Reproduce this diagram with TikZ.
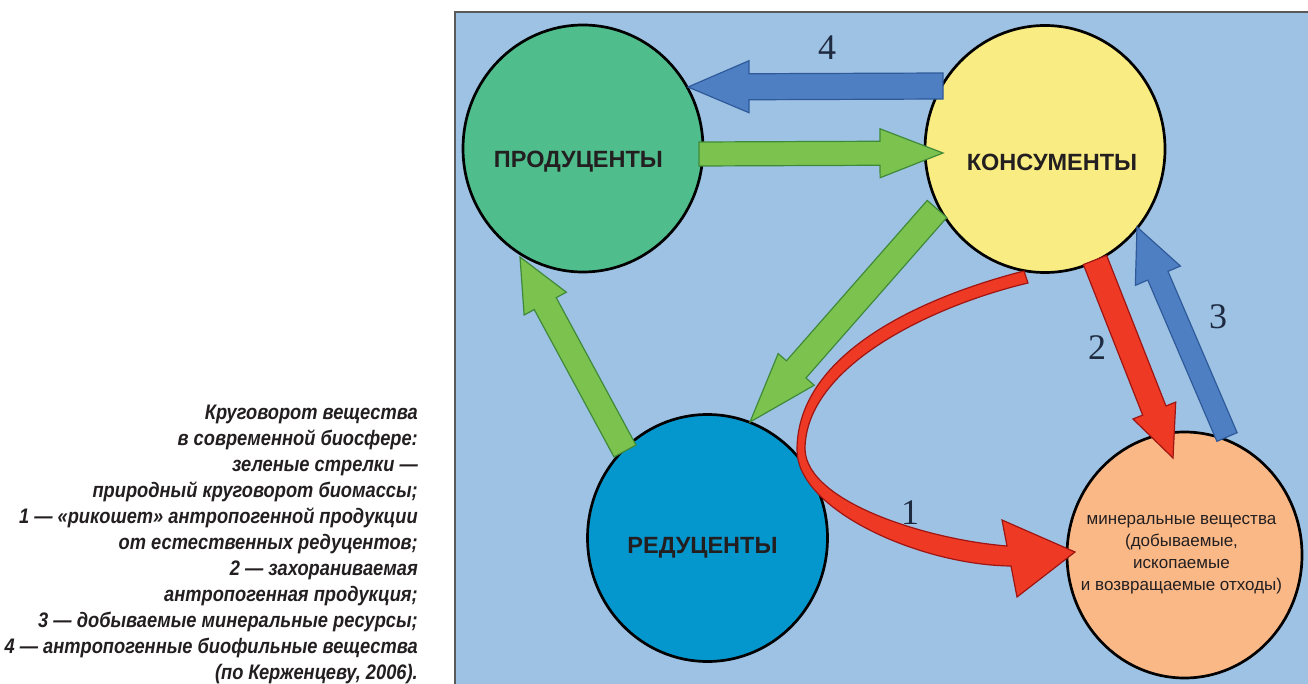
\documentclass[tikz,border=0pt]{standalone}
\usepackage{fontspec}
\usetikzlibrary{shapes.geometric,calc}
\newfontfamily\sansf{Liberation Sans}
\newfontfamily\seriff{Liberation Serif}
\newfontfamily\capf[FakeStretch=0.87]{Liberation Sans}
\definecolor{panel}{HTML}{9EC2E3}
\definecolor{panelborder}{HTML}{5A5A5A}
\definecolor{cprod}{HTML}{4FBE8C}
\definecolor{ccons}{HTML}{F9EC83}
\definecolor{cred}{HTML}{0497CD}
\definecolor{cmin}{HTML}{FBB887}
\definecolor{agreen}{HTML}{7CC24E}
\definecolor{dgreen}{HTML}{3F8A3A}
\definecolor{ablue}{HTML}{4E7FC3}
\definecolor{dblue}{HTML}{2F5A9A}
\definecolor{ared}{HTML}{EE3A25}
\definecolor{dred}{HTML}{9E1512}
\definecolor{labtext}{HTML}{231F20}
\definecolor{numtext}{HTML}{1E2A40}
% block arrow: style, tail, tip, shaft half width, head half width, head length
\newcommand\barrow[6]{%
  \coordinate (bb) at ($(#3)!#6!(#2)$);
  \filldraw[#1] ($(#2)!#4!90:(#3)$) -- ($(bb)!#4!90:(#3)$) -- ($(bb)!#5!90:(#3)$) -- (#3)
    -- ($(bb)!#5!-90:(#3)$) -- ($(bb)!#4!-90:(#3)$) -- ($(#2)!#4!-90:(#3)$) -- cycle;}
\begin{document}
\begin{tikzpicture}[x=1pt,y=-1pt,
  circ/.style={ellipse, draw=black, line width=2.7pt, minimum width=240pt, minimum height=247pt, inner sep=0pt},
  lab/.style={font=\sansf\bfseries\fontsize{23.5}{26}\selectfont, text=labtext, inner sep=0pt},
  num/.style={font=\seriff\fontsize{36}{40}\selectfont, text=numtext, inner sep=0pt},
  garr/.style={fill=agreen, draw=dgreen, line width=1.2pt, line join=miter},
  barr/.style={fill=ablue, draw=dblue, line width=1.2pt, line join=miter},
  rarr/.style={fill=ared, draw=dred, line width=1.2pt, line join=miter}]
\useasboundingbox (0,0) rectangle (1308,684);
\fill[white] (0,0) rectangle (1308,684);
\fill[panel] (455,12) rectangle (1308,684);
\draw[line width=1.5pt, panelborder] (455,684) -- (455,12) -- (1310,12);

% circles
\node[circ, fill=cprod] (prod) at (583,148.5) {};
\node[circ, fill=ccons] (cons) at (1045,149) {};
\node[circ, fill=cred] (redu) at (707.5,538) {};
\node[circ, fill=cmin, minimum width=235pt, minimum height=246pt] (mine) at (1184.5,555) {};

% arrow end points
\coordinate (a4s) at ($(cons)+(-102,-63)$);
\coordinate (a4e) at ($(prod)+(105,-61.5)$);
\coordinate (g1s) at ($(prod)+(116,5.5)$);
\coordinate (g1e) at ($(cons)+(-102,4)$);
\coordinate (g2s) at ($(cons)+(-108,60)$);
\coordinate (g2e) at ($(redu)+(42.5,-116)$);
\coordinate (g3s) at ($(redu)+(-82.5,-87)$);
\coordinate (g3e) at ($(prod)+(-63,108.5)$);
\coordinate (r2s) at ($(cons)+(50,111)$);
\coordinate (r2e) at ($(mine)+(-11.5,-97)$);
\coordinate (b3s) at ($(mine)+(42.5,-118)$);
\coordinate (b3e) at ($(cons)+(92,78)$);
\coordinate (r1s) at ($(cons)+(-19,128)$);
\coordinate (r1e) at ($(mine)+(-109.5,-3)$);

\barrow{barr}{a4s}{a4e}{13pt}{26pt}{61pt}
\barrow{garr}{g1s}{g1e}{12pt}{24.5pt}{63pt}
\barrow{garr}{g2s}{g2e}{13pt}{24pt}{70pt}
\barrow{garr}{g3s}{g3e}{12.5pt}{24pt}{53pt}
\barrow{rarr}{r2s}{r2e}{12.5pt}{23pt}{51pt}
\barrow{barr}{b3s}{b3e}{11pt}{24.5pt}{53pt}

% curved red arrow 1 (tapered band from consumers, round the decomposers, to minerals)
\filldraw[rarr] ($(r1s)+(-2,-6)$) .. controls (930,295) and (797,350) .. (797,450)
  .. controls (797,510) and (920,565) .. (1011,566)
  -- (1017,597) -- (r1e) -- (1002,520) -- (1007,546)
  .. controls (930,540) and (807,503) .. (805,449.5)
  .. controls (805,365) and (935,305) .. ($(r1s)+(2,6)$) -- cycle;

% labels
\node[lab] (prodt) at ($(prod)+(-4.5,13.5)$) {ПРОДУЦЕНТЫ};
\node[lab] (const) at ($(cons)+(7,13)$) {КОНСУМЕНТЫ};
\node[lab] (redut) at ($(redu)+(-5,10)$) {РЕДУЦЕНТЫ};
\node[align=center, inner sep=0pt, font=\sansf\fontsize{17}{22}\selectfont, text=labtext] (minet) at ($(mine)+(-3,0)$)
  {минеральные вещества\\(добываемые,\\ископаемые\\и возвращаемые отходы)};

\node[num] (n4) at (827,48) {4};
\node[num] (n1) at (910,513) {1};
\node[num] (n2) at (1097,348) {2};
\node[num] (n3) at (1218,317) {3};

% caption
\node[align=right, anchor=north east, inner sep=0pt, text=labtext,
  font=\capf\bfseries\itshape\fontsize{21}{26}\selectfont] (cap) at (418,405)
  {Круговорот вещества\\
   в современной биосфере:\\
   зеленые стрелки —\\
   природный круговорот биомассы;\\
   1 — «рикошет» антропогенной продукции\\
   от естественных редуцентов;\\
   2 — захораниваемая\\
   антропогенная продукция;\\
   3 — добываемые минеральные ресурсы;\\
   4 — антропогенные биофильные вещества\\
   (по Керженцеву, 2006).};
\end{tikzpicture}
\end{document}
